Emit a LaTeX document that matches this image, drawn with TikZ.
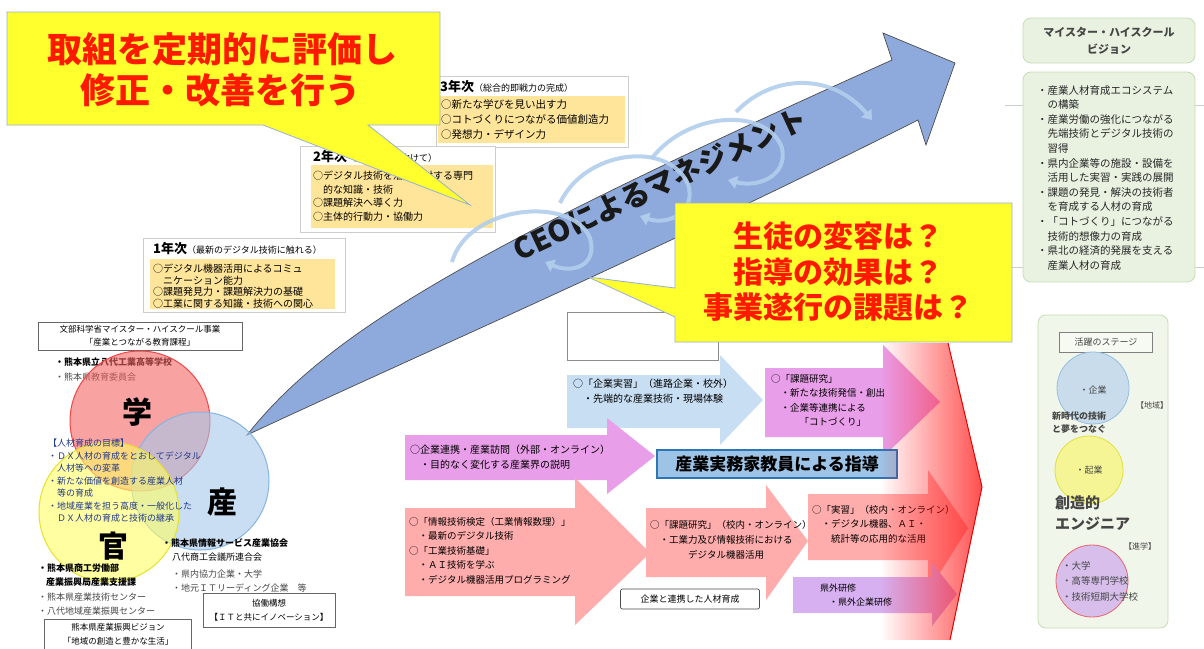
\documentclass[tikz,border=0pt]{standalone}
\usepackage{fontspec}
\setmainfont{Noto Sans CJK JP}
\usetikzlibrary{arrows.meta,fadings}
\definecolor{cY}{RGB}{255,255,45}
\definecolor{cYb}{RGB}{150,175,215}
\definecolor{cR}{RGB}{255,25,0}
\definecolor{ceo}{RGB}{142,169,219}
\definecolor{loopc}{RGB}{178,206,236}
\definecolor{yr}{RGB}{255,229,153}
\definecolor{navy}{RGB}{32,56,140}
\definecolor{gkR}{RGB}{245,100,100}
\definecolor{gkRb}{RGB}{240,70,70}
\definecolor{snB}{RGB}{165,200,235}
\definecolor{snBb}{RGB}{135,180,225}
\definecolor{knY}{RGB}{255,255,100}
\definecolor{knYb}{RGB}{230,225,40}
\definecolor{grF}{RGB}{233,242,225}
\definecolor{grB}{RGB}{198,220,182}
\definecolor{txG}{RGB}{70,70,70}
\definecolor{lbA}{RGB}{200,222,242}
\definecolor{mgA}{RGB}{233,158,233}
\definecolor{saA}{RGB}{255,172,172}
\definecolor{puA}{RGB}{214,176,240}
\definecolor{shF}{RGB}{157,195,230}
\definecolor{shB}{RGB}{46,117,182}
\definecolor{grayln}{RGB}{205,205,205}
\definecolor{stB}{RGB}{200,220,235}
\definecolor{stBb}{RGB}{150,190,225}
\definecolor{stY}{RGB}{245,245,150}
\definecolor{stYb}{RGB}{225,225,60}
\definecolor{stP}{RGB}{215,190,235}
\definecolor{stPb}{RGB}{232,100,110}
\begin{document}
\begin{tikzpicture}[x=1pt,y=-1pt,
  callout/.style={fill=cY,draw=cYb,line width=0.8pt},
  callbig/.style={text=cR,font=\bfseries\fontsize{35}{42}\selectfont,inner sep=0pt},
  callmid/.style={text=cR,font=\bfseries\fontsize{30}{35.5}\selectfont,inner sep=0pt,align=center},
  yrout/.style={draw=grayln,fill=white,line width=0.6pt},
  yrbox/.style={fill=yr},
  yrtxt/.style={anchor=north west,inner sep=0pt,align=left},
  tx/.style={anchor=west,inner sep=0pt,font=\fontsize{9}{11}\selectfont},
  mtx/.style={anchor=north west,inner sep=0pt,align=left},
  loopar/.style={draw=loopc,line width=4pt,opacity=0.9,-{Triangle[length=9pt,width=13pt]}},
  frame/.style={draw=black!60,fill=white,line width=0.6pt},
  rgreen/.style={fill=grF,draw=grB,line width=0.8pt,rounded corners=8pt},
  venn/.style={circle,fill opacity=0.6,line width=1pt,inner sep=0pt}
]
\useasboundingbox (0,0) rectangle (1204,648);
\fill[white] (0,0) rectangle (1204,648);

% faint lines at right
\draw[grayln,line width=0.5pt] (1005,105) -- (1204,105);
\draw[grayln,line width=0.5pt] (1005,267) -- (1204,267);

% ---------- year boxes ----------
\draw[yrout] (436,76) rectangle (628,147);
\fill[yrbox] (438,96) rectangle (625,143);
\node[anchor=west,inner sep=0pt] (y3h) at (440,87) {{\bfseries\fontsize{13}{13}\selectfont 3年次}{\fontsize{9}{9}\selectfont（総合的即戦力の完成）}};
\node[yrtxt,font=\fontsize{10.5}{15}\selectfont] (y3t) at (441,99) {○新たな学びを見い出す力\\○コトづくりにつながる価値創造力\\○発想力・デザイン力};

\draw[yrout] (300,146) rectangle (495,232);
\fill[yrbox] (311,165) rectangle (493,228);
\node[anchor=west,inner sep=0pt] (y2h) at (313,157) {{\bfseries\fontsize{13}{13}\selectfont 2年次}{\fontsize{9}{9}\selectfont（課題解決へ向けて）}};
\node[yrtxt,font=\fontsize{10}{13.5}\selectfont] (y2t) at (313,171) {○デジタル技術を活用に対する専門\\　的な知識・技術\\○課題解決へ導く力\\○主体的行動力・協働力};

\draw[yrout] (143,238) rectangle (345,312);
\fill[yrbox] (150,259) rectangle (335,309);
\node[anchor=west,inner sep=0pt] (y1h) at (153,249) {{\bfseries\fontsize{13}{13}\selectfont 1年次}{\fontsize{9}{9}\selectfont（最新のデジタル技術に触れる）}};
\node[yrtxt,font=\fontsize{10}{11.5}\selectfont] (y1t) at (153,264) {○デジタル機器活用によるコミュ\\　ニケーション能力\\○課題発見力・課題解決力の基礎\\○工業に関する知識・技術への関心};

% ---------- callout 1 ----------
\draw[callout] (7,12) -- (440,12) -- (440,125) -- (368,125) -- (470,205) -- (263,125) -- (7,125) -- cycle;
\node[callbig] (c1a) at (222,49) {取組を定期的に評価し};
\node[callbig] (c1b) at (220,90) {修正・改善を行う};

% ---------- big CEO arrow ----------
\draw[fill=ceo,draw=black!70,line width=0.7pt,line join=miter]
  (247,435) .. controls (330,330) and (480,245) .. (892,60) -- (883,33) -- (955,63) -- (926,145) -- (918,120)
  .. controls (660,250) and (440,345) .. (247,435) -- cycle;
\node[rotate=25,font=\bfseries\fontsize{29}{29}\selectfont,inner sep=0pt,text=black!90] (ceotxt) at (660,184) {CEOによるマネジメント};

% loops around the arrow
\draw[loopar] (452,262) .. controls (468,205) and (572,195) .. (590,238) .. controls (598,266) and (572,274) .. (545,262);
\draw[loopar] (560,203) .. controls (585,150) and (668,140) .. (688,184) .. controls (697,212) and (668,226) .. (640,216);
\draw[loopar] (652,158) .. controls (690,110) and (768,108) .. (782,148) .. controls (788,176) and (758,188) .. (728,180);
\draw[loopar] (736,112) .. controls (772,74) and (832,72) .. (872,120);

% ---------- Venn ----------
\node[frame,minimum width=204pt,minimum height=28pt,inner sep=0pt] (topbox) at (140,336) {};
\node[inner sep=0pt,font=\fontsize{8.5}{13}\selectfont,align=center] (topboxt) at (140,336) {文部科学省マイスター・ハイスクール事業\\「産業とつながる教育課程」};
\node[tx,font=\bfseries\fontsize{9}{11}\selectfont] (gk1) at (55,362) {・熊本県立八代工業高等学校};
\node[tx,text=txG] (gk2) at (55,377) {・熊本県教育委員会};

\node[venn,minimum size=140pt,fill=gkR,draw=gkRb] (gaku) at (140,421) {};
\node[venn,minimum size=138pt,fill=snB,draw=snBb] (san) at (200,481) {};
\node[venn,minimum size=140pt,fill=knY,draw=knYb] (kan) at (109,512) {};
\node[font=\bfseries\fontsize{30}{30}\selectfont,inner sep=0pt] (gakut) at (137,412) {学};
\node[font=\bfseries\fontsize{30}{30}\selectfont,inner sep=0pt] (sant) at (222,502) {産};
\node[font=\bfseries\fontsize{30}{30}\selectfont,inner sep=0pt] (kant) at (113,546) {官};

\node[mtx,text=navy,font=\fontsize{9}{12.5}\selectfont] (goal) at (48,439) {【人材育成の目標】\\・ＤＸ人材の育成をとおしてデジタル\\　人材等への変革\\・新たな価値を創造する産業人材\\　等の育成\\・地域産業を担う高度・一般化した\\　ＤＸ人材の育成と技術の継承};

\node[tx,font=\bfseries\fontsize{9}{11}\selectfont] (sn1) at (162,543) {・熊本県情報サービス産業協会};
\node[tx] (sn2) at (172,557) {八代商工会議所連合会};
\node[tx,text=txG] (sn3) at (172,574) {・県内協力企業・大学};
\node[tx,text=txG] (sn4) at (172,588) {・地元ＩＴリーディング企業　等};
\node[frame,minimum width=132pt,minimum height=34pt,inner sep=0pt] (snbox) at (269,610) {};
\node[inner sep=0pt,font=\fontsize{8.5}{14}\selectfont,align=center] (snboxt) at (269,610) {協働構想\\【ＩＴと共にイノベーション】};

\node[tx,font=\bfseries\fontsize{9}{11}\selectfont] (kn1) at (38,568) {・熊本県商工労働部};
\node[tx,font=\bfseries\fontsize{9}{11}\selectfont] (kn2) at (46,582) {産業振興局産業支援課};
\node[tx,text=txG] (kn3) at (38,597) {・熊本県産業技術センター};
\node[tx,text=txG] (kn4) at (38,611) {・八代地域産業振興センター};
\node[frame,minimum width=147pt,minimum height=30pt,inner sep=0pt] (knbox) at (118,634) {};
\node[inner sep=0pt,font=\fontsize{8.5}{14}\selectfont,align=center] (knboxt) at (118,634) {熊本県産業振興ビジョン\\「地域の創造と豊かな生活」};

% ---------- lower middle arrows ----------
\draw[fill=white,draw=black!45,line width=0.6pt] (567,312) rectangle (718,360);
\fill[lbA] (567,375) -- (720,375) -- (720,355) -- (763,400) -- (720,445) -- (720,428) -- (567,428) -- cycle;
\node[mtx,font=\fontsize{10}{15}\selectfont] (lbt) at (573,379) {○「企業実習」（進路企業・校外）\\　・先端的な産業技術・現場体験};

\fill[mgA] (765,368) -- (883,368) -- (883,345) -- (940,402) -- (883,457) -- (883,437) -- (765,437) -- cycle;
\node[mtx,font=\fontsize{9.5}{14.5}\selectfont] (mg2t) at (771,374) {○「課題研究」\\　・新たな技術発信・創出\\　・企業等連携による\\　　　「コトづくり」};

\fill[mgA] (405,435) -- (607,435) -- (607,418) -- (655,456) -- (607,494) -- (607,480) -- (405,480) -- cycle;
\node[mtx,font=\fontsize{10}{15}\selectfont] (mg1t) at (410,445) {○企業連携・産業訪問（外部・オンライン）\\　・目的なく変化する産業界の説明};

\fill[saA] (405,508) -- (575,508) -- (575,478) -- (650,553) -- (575,625) -- (575,596) -- (405,596) -- cycle;
\node[mtx,font=\fontsize{9.5}{14.5}\selectfont] (saat) at (409,517) {○「情報技術検定（工業情報数理）」\\　・最新のデジタル技術\\○「工業技術基礎」\\　・ＡＩ技術を学ぶ\\　・デジタル機器活用プログラミング};

\fill[saA] (646,508) -- (766,508) -- (766,485) -- (808,541) -- (766,600) -- (766,577) -- (646,577) -- cycle;
\node[mtx,font=\fontsize{9.5}{15}\selectfont] (sabt) at (650,520) {○「課題研究」（校内・オンライン）\\　・工業力及び情報技術における\\　　　　デジタル機器活用};

\fill[saA] (808,494) -- (928,494) -- (928,470) -- (968,528) -- (928,592) -- (928,560) -- (808,560) -- cycle;
\node[mtx,font=\fontsize{9.5}{14.5}\selectfont] (sact) at (812,505) {○「実習」（校内・オンライン）\\　・デジタル機器、ＡＩ・\\　　統計等の応用的な活用};

\fill[puA] (793,577) -- (932,577) -- (932,563) -- (957,594) -- (932,626) -- (932,613) -- (793,613) -- cycle;
\node[mtx,font=\fontsize{9}{14}\selectfont] (put) at (820,584) {県外研修\\　・県外企業研修};

\node[draw=shB,fill=shF,line width=1.5pt,minimum width=240pt,minimum height=28pt,inner sep=0pt,font=\bfseries\fontsize{17}{17}\selectfont] (shido) at (777,464) {産業実務家教員による指導};

\node[draw=black!70,fill=white,line width=0.7pt,rounded corners=2pt,minimum width=139pt,minimum height=20pt,inner sep=0pt,font=\fontsize{9}{9}\selectfont] (renkei) at (690,599) {企業と連携した人材育成};

% red gradient chevron
\begin{scope}
\clip (880,343) -- (948,343) -- (982,487) -- (950,640) -- (880,640) -- cycle;
\fill[red!95,path fading=west] (880,343) rectangle (1020,640);
\end{scope}
\draw[red!90!black,line width=1pt] (948,343) -- (982,487) -- (950,640);

% ---------- callout 2 ----------
\draw[callout] (675,203) -- (1012,203) -- (1012,342) -- (675,342) -- (675,317) -- (588,277) -- (675,288) -- cycle;
\node[callmid] (c2t) at (838,272) {生徒の変容は？\\指導の効果は？\\事業遂行の課題は？};

% ---------- right panels ----------
\draw[rgreen] (1023,18) rectangle (1195,63);
\node[inner sep=0pt,align=center,text=txG,font=\bfseries\fontsize{11}{17}\selectfont] (vis) at (1109,41) {マイスター・ハイスクール\\ビジョン};
\draw[rgreen] (1023,72) rectangle (1195,282);
\node[mtx,text=black!85,font=\fontsize{10.5}{14.6}\selectfont] (vist) at (1037,85) {・産業人材育成エコシステム\\　の構築\\・産業労働の強化につながる\\　先端技術とデジタル技術の\\　習得\\・県内企業等の施設・設備を\\　活用した実習・実践の展開\\・課題の発見・解決の技術者\\　を育成する人材の育成\\・「コトづくり」につながる\\　技術的想像力の育成\\・県北の経済的発展を支える\\　産業人材の育成};

\draw[rgreen,fill=grF!70] (1038,315) rectangle (1168,628);
\node[draw=black!50,fill=white!60!grF,line width=0.6pt,minimum width=93pt,minimum height=20pt,inner sep=0pt,font=\fontsize{9}{9}\selectfont,text=txG] (stage) at (1106,342) {活躍のステージ};
\node[circle,minimum size=72pt,fill=stB,draw=stBb,line width=0.8pt] (cB) at (1093,388) {};
\node[inner sep=0pt,text=txG,font=\fontsize{9}{9}\selectfont] (cBt) at (1093,390) {・企業};
\node[inner sep=0pt,text=txG,font=\fontsize{8}{8}\selectfont] (chiiki) at (1152,405) {【地域】};
\node[mtx,text=txG,font=\bfseries\fontsize{9}{13}\selectfont] (yume) at (1052,412) {新時代の技術\\と夢をつなぐ};
\node[circle,minimum size=68pt,fill=stY,draw=stYb,line width=0.8pt] (cY2) at (1089,470) {};
\node[inner sep=0pt,text=txG,font=\fontsize{9}{9}\selectfont] (cYt) at (1089,470) {・起業};
\node[mtx,text=txG,font=\bfseries\fontsize{15}{21}\selectfont] (eng) at (1055,495) {創造的\\エンジニア};
\node[inner sep=0pt,text=txG,font=\fontsize{8}{8}\selectfont] (shingaku) at (1140,546) {【進学】};
\node[circle,minimum size=72pt,fill=stP,draw=stPb,line width=0.8pt] (cP) at (1092,581) {};
\node[mtx,text=txG,font=\fontsize{9.5}{15.5}\selectfont] (cPt) at (1062,561) {・大学\\・高等専門学校\\・技術短期大学校};
\end{tikzpicture}
\end{document}
